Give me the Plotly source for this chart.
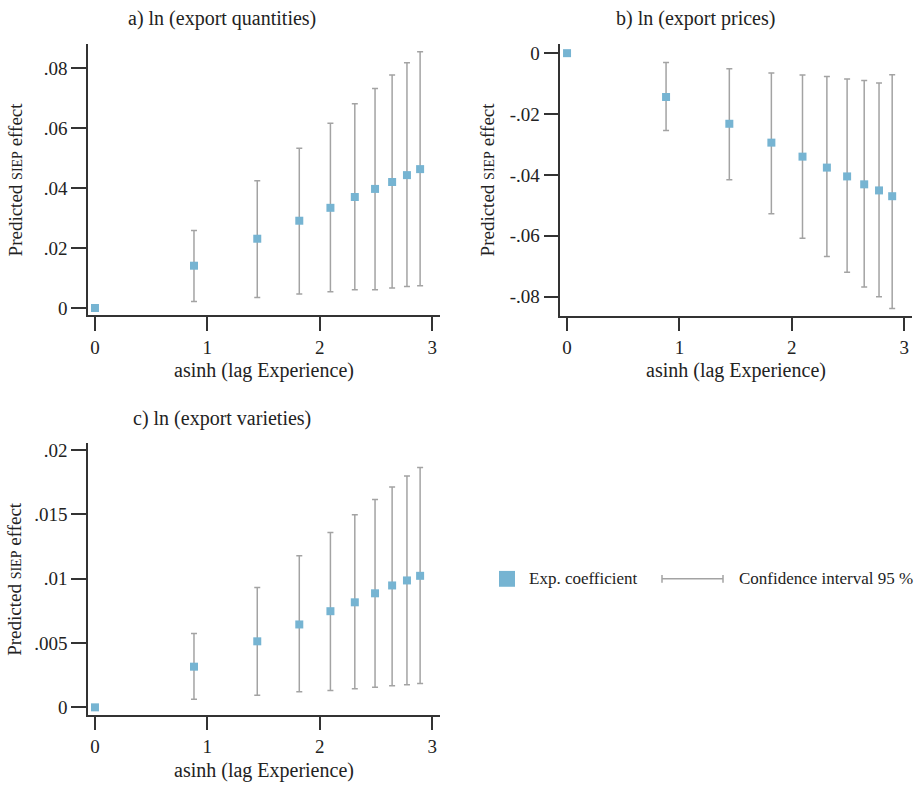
import plotly.graph_objects as go

# x positions: asinh of lagged experience (0..9 years)
x_vals = [0, 0.881, 1.444, 1.818, 2.095, 2.312, 2.492, 2.644, 2.776, 2.893]

# a) ln(export quantities)
qty_coef = [0, 0.0141, 0.0231, 0.0291, 0.0334, 0.0370, 0.0397, 0.0420, 0.0443, 0.0463]
qty_lo = [0, 0.0022, 0.0035, 0.0047, 0.0054, 0.0061, 0.0061, 0.0067, 0.0072, 0.0074]
qty_hi = [0, 0.0258, 0.0424, 0.0533, 0.0616, 0.0681, 0.0732, 0.0777, 0.0818, 0.0854]

# b) ln(export prices)
prc_coef = [0, -0.0144, -0.0232, -0.0294, -0.0340, -0.0376, -0.0405, -0.0431, -0.0451, -0.0470]
prc_lo = [0, -0.0254, -0.0416, -0.0528, -0.0608, -0.0668, -0.0720, -0.0768, -0.0800, -0.0839]
prc_hi = [0, -0.0031, -0.0051, -0.0065, -0.0072, -0.0077, -0.0085, -0.0090, -0.0098, -0.0071]

# c) ln(export varieties)
var_coef = [0, 0.00316, 0.00513, 0.00644, 0.00747, 0.00816, 0.00886, 0.00947, 0.00986, 0.01022]
var_lo = [0, 0.00062, 0.00095, 0.00121, 0.00131, 0.00144, 0.00157, 0.00167, 0.00175, 0.00185]
var_hi = [0, 0.00573, 0.00932, 0.01178, 0.01358, 0.01497, 0.01615, 0.01712, 0.01797, 0.01864]

x_ticks = [0, 1, 2, 3]
x_ticktext = ["0", "1", "2", "3"]
qty_ticks = [0, 0.02, 0.04, 0.06, 0.08]
qty_ticktext = ["0", ".02", ".04", ".06", ".08"]
prc_ticks = [0, -0.02, -0.04, -0.06, -0.08]
prc_ticktext = ["0", "-.02", "-.04", "-.06", "-.08"]
var_ticks = [0, 0.005, 0.01, 0.015, 0.02]
var_ticktext = ["0", ".005", ".01", ".015", ".02"]

titles = ["a) ln (export quantities)", "b) ln (export prices)", "c) ln (export varieties)"]
y_title = "Predicted <span style='font-size:14px'>SIEP</span> effect"
x_title = "asinh (lag Experience)"
legend_labels = ["Exp. coefficient", "Confidence interval 95 %"]

FONT = "Liberation Serif"
TICK_FS = 19
TITLE_FS = 20
MARK = "#76b4d2"
ERR = "#a3a3a3"
AX = "#333333"
TXT = "#222222"

fig = go.Figure()

panels = [
    (qty_coef, qty_lo, qty_hi, "x", "y"),
    (prc_coef, prc_lo, prc_hi, "x2", "y2"),
    (var_coef, var_lo, var_hi, "x3", "y3"),
]
for coef, lo, hi, xa, ya in panels:
    plus = [h - c for h, c in zip(hi, coef)]
    minus = [c - l for c, l in zip(coef, lo)]
    fig.add_trace(go.Scatter(
        x=x_vals, y=coef, mode="markers", xaxis=xa, yaxis=ya,
        marker=dict(symbol="square", size=8, color=MARK),
        error_y=dict(type="data", symmetric=False, array=plus, arrayminus=minus,
                     color=ERR, thickness=1.5, width=3),
        showlegend=False, cliponaxis=False,
    ))

W, H = 918, 787

def px(xp):
    return xp / W

def py(yp):
    return 1 - yp / H

common_x = dict(showline=True, linecolor=AX, linewidth=1.5, ticks="outside", ticklen=14,
                tickwidth=1.5, tickcolor=AX, tickvals=x_ticks, ticktext=x_ticktext,
                showgrid=False, zeroline=False,
                tickfont=dict(family=FONT, size=TICK_FS, color=TXT))
common_y = dict(showline=True, linecolor=AX, linewidth=1.5, ticks="outside", ticklen=15,
                tickwidth=1.5, tickcolor=AX, showgrid=False, zeroline=False,
                tickfont=dict(family=FONT, size=TICK_FS, color=TXT))

fig.update_layout(
    width=W, height=H, margin=dict(l=0, r=0, t=0, b=0),
    paper_bgcolor="white", plot_bgcolor="white", showlegend=False,
    xaxis=dict(domain=[px(88), px(440)], range=[-0.062, 3.07], anchor="y", **common_x),
    yaxis=dict(domain=[py(314), py(40.7)], range=[-0.0024, 0.0879], anchor="x",
               tickvals=qty_ticks, ticktext=qty_ticktext, **common_y),
    xaxis2=dict(domain=[px(560.3), px(912.3)], range=[-0.06, 3.072], anchor="y2", **common_x),
    yaxis2=dict(domain=[py(314.3), py(40.7)], range=[-0.0862, 0.0029], anchor="x2",
                tickvals=prc_ticks, ticktext=prc_ticktext, **common_y),
    xaxis3=dict(domain=[px(88), px(440)], range=[-0.062, 3.07], anchor="y3", **common_x),
    yaxis3=dict(domain=[py(717), py(443.3)], range=[-0.000565, 0.02051], anchor="x3",
                tickvals=var_ticks, ticktext=var_ticktext, **common_y),
)

anns = []
tf = dict(family=FONT, size=TITLE_FS, color=TXT)
yf = dict(family=FONT, size=19, color=TXT)
# panel titles
for t, (xc, yc) in zip(titles, [(222, 15), (695, 15), (222, 418)]):
    anns.append(dict(text=t, x=px(xc), y=py(yc), xref="paper", yref="paper",
                     showarrow=False, font=tf, xanchor="center", yanchor="middle"))
# y titles
for (xc, yc) in [(15, 177), (487, 177), (15, 580)]:
    anns.append(dict(text=y_title, x=px(xc), y=py(yc), xref="paper", yref="paper",
                     showarrow=False, font=yf, textangle=-90, xanchor="center", yanchor="middle"))
# x titles
for (xc, yc) in [(264, 370), (736, 370), (264, 773)]:
    anns.append(dict(text=x_title, x=px(xc), y=py(yc), xref="paper", yref="paper",
                     showarrow=False, font=tf, xanchor="center", yanchor="middle"))
# legend text
lf = dict(family=FONT, size=17, color=TXT)
anns.append(dict(text=legend_labels[0], x=px(527), y=py(580), xref="paper", yref="paper",
                 showarrow=False, font=lf, xanchor="left", yanchor="middle"))
anns.append(dict(text=legend_labels[1], x=px(737), y=py(580), xref="paper", yref="paper",
                 showarrow=False, font=lf, xanchor="left", yanchor="middle"))
fig.update_layout(annotations=anns)

# legend symbols
shapes = [
    dict(type="rect", xref="paper", yref="paper", x0=px(499), x1=px(515), y0=py(588), y1=py(572),
         fillcolor=MARK, line=dict(width=0)),
    dict(type="line", xref="paper", yref="paper", x0=px(662), x1=px(723), y0=py(580), y1=py(580),
         line=dict(color=ERR, width=1.5)),
    dict(type="line", xref="paper", yref="paper", x0=px(662), x1=px(662), y0=py(576), y1=py(584),
         line=dict(color=ERR, width=1.5)),
    dict(type="line", xref="paper", yref="paper", x0=px(723), x1=px(723), y0=py(576), y1=py(584),
         line=dict(color=ERR, width=1.5)),
]
fig.update_layout(shapes=shapes)

fig.write_html("out.html")
